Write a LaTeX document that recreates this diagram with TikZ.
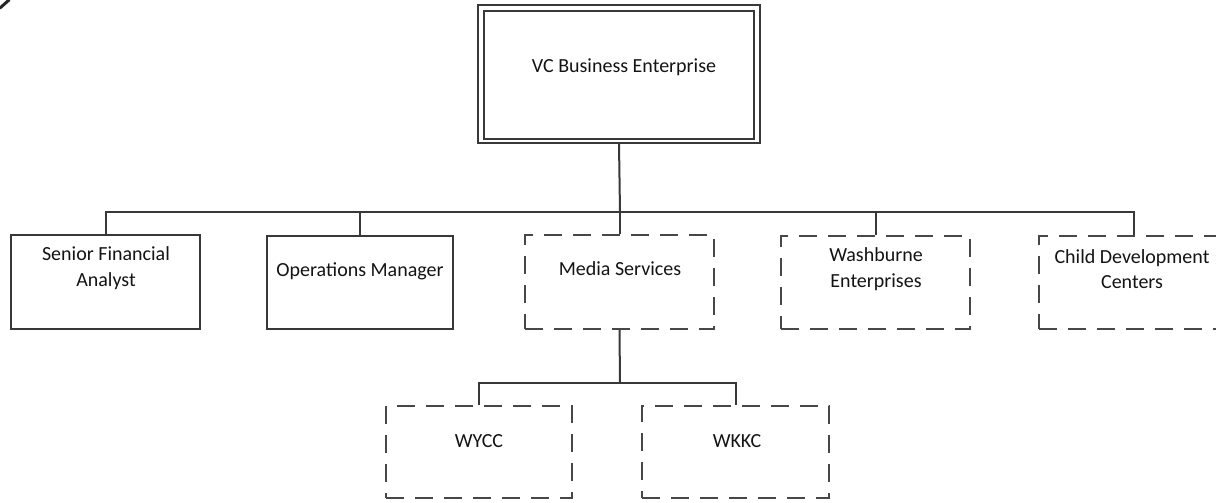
\documentclass[tikz,border=0pt]{standalone}
\usepackage{fontspec}
\setmainfont{Carlito}
\begin{document}
\begin{tikzpicture}[x=1pt,y=-1pt,
  ln/.style={draw=black!78,line width=2pt},
  solidbox/.style={draw=black!78,line width=2.2pt,rectangle,inner sep=0pt},
  dashbox/.style={draw=black!72,line width=2.2pt,dash pattern=on 18pt off 11pt,rectangle,inner sep=0pt},
  lbl/.style={align=center,font=\fontsize{20}{25.5}\selectfont,text=black!92,inner sep=0pt}]
\clip (0,0) rectangle (1216,503);
\fill[white] (0,0) rectangle (1216,503);
% stray stroke top-left
\draw[line width=3pt,black!85,line cap=round] (0,8) -- (9,0);
% top box (double border)
\node[solidbox,minimum width=282pt,minimum height=138pt] (top) at (619,74) {};
\node[draw=black!78,line width=1.8pt,minimum width=270pt,minimum height=128pt,inner sep=0pt] (topin) at (619,75) {};
\node[lbl] (topt) at (624,67) {VC Business Enterprise};
% level 1
\node[solidbox,minimum width=189pt,minimum height=94pt] (sfa) at (105.5,282) {};
\node[lbl] (sfat) at (106,268) {Senior Financial\\Analyst};
\node[solidbox,minimum width=186pt,minimum height=93pt] (om) at (360,282.5) {};
\node[lbl] (omt) at (360,271) {Operations Manager};
\node[dashbox,minimum width=189pt,minimum height=94pt] (ms) at (619.5,282) {};
\node[lbl] (mst) at (620,269) {Media Services};
\node[dashbox,minimum width=189pt,minimum height=93pt] (we) at (875.5,282.5) {};
\node[lbl] (wet) at (876,269) {Washburne\\Enterprises};
\node[dashbox,minimum width=190pt,minimum height=93pt] (cd) at (1134,282.5) {};
\node[lbl] (cdt) at (1132,269) {Child Development\\Centers};
% level 2
\node[dashbox,minimum width=186pt,minimum height=92pt] (wy) at (479,452) {};
\node[lbl] (wyt) at (479,441) {WYCC};
\node[dashbox,minimum width=187pt,minimum height=92pt] (wk) at (735.5,452) {};
\node[lbl] (wkt) at (737,441) {WKKC};
% connectors
\coordinate (bus) at (620,212);
\draw[ln] (top.south) -- (bus);
\draw[ln] (sfa.north) |- (bus) -| (cd.north);
\draw[ln] (om.north) -- (om.north |- bus);
\draw[ln] (ms.north) -- (ms.north |- bus);
\draw[ln] (we.north) -- (we.north |- bus);
\coordinate (bus2) at (620,383);
\draw[ln] (ms.south) -- (bus2);
\draw[ln] (wy.north) |- (bus2) -| (wk.north);
\end{tikzpicture}
\end{document}
